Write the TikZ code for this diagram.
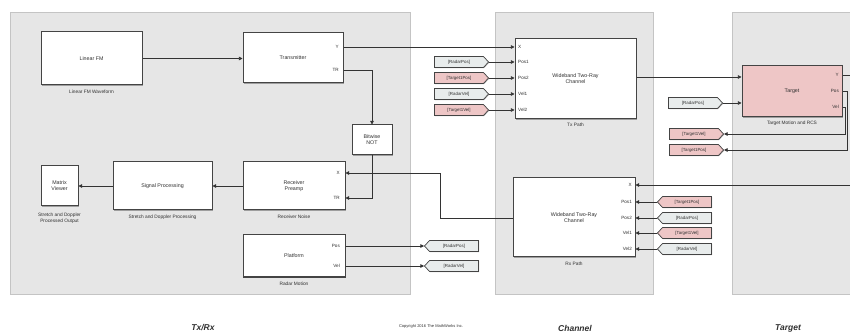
\documentclass[tikz,border=0pt]{standalone}
\usepackage{fontspec}
\setmainfont{Liberation Sans}
\usetikzlibrary{arrows.meta,shapes.symbols,shadows}
\definecolor{panelfill}{HTML}{E6E6E6}
\definecolor{paneledge}{HTML}{C4C4C4}
\definecolor{linec}{HTML}{333333}
\definecolor{blkedge}{HTML}{444444}
\definecolor{pinkfill}{HTML}{EEC6C6}
\definecolor{greyfill}{HTML}{E8ECEC}
\definecolor{txtc}{HTML}{303030}
\begin{document}
\begin{tikzpicture}[x=1pt,y=-1pt,
  panel/.style={fill=panelfill,draw=paneledge,line width=0.6pt,
    drop shadow={shadow xshift=0.8pt,shadow yshift=-1pt,fill=black!35,opacity=0.7}},
  blk/.style={draw=blkedge,fill=white,line width=1pt,inner sep=0pt,align=center,
    font=\fontsize{5.3}{6.2}\selectfont,text=txtc,
    drop shadow={shadow xshift=0.8pt,shadow yshift=-0.8pt,fill=black!45,opacity=0.8}},
  tagbase/.style={shape=signal,draw=blkedge,line width=0.7pt,inner sep=0.6pt,
    minimum height=11pt,minimum width=54pt,signal pointer angle=95,
    font=\fontsize{4.4}{5}\selectfont,text=txtc,
    drop shadow={shadow xshift=0.6pt,shadow yshift=-0.6pt,fill=black!40,opacity=0.8}},
  tagpink/.style={tagbase,fill=pinkfill},
  taggrey/.style={tagbase,fill=greyfill},
  toleft/.style={signal to=west},
  toright/.style={signal to=east},
  sublabel/.style={font=\fontsize{4.8}{5.6}\selectfont,text=txtc,align=center,inner sep=0pt},
  portl/.style={font=\fontsize{4.6}{5}\selectfont,text=txtc,inner sep=0pt},
  wire/.style={draw=linec,line width=0.7pt,-{Triangle[length=3.6pt,width=3.6pt]}},
  title/.style={font=\bfseries\itshape\fontsize{8.5}{10}\selectfont,text=txtc}
]
\useasboundingbox (0,0) rectangle (850,336);
% panels
\path[panel] (10,12) rectangle (410,294);
\path[panel] (495,12) rectangle (653,294);
\path[panel] (732,12) rectangle (858,294);

% Tx/Rx blocks
\node[blk,minimum width=101pt,minimum height=53pt] (lfm) at (91.5,58.5) {Linear FM};
\node[sublabel] (lfml) at (91.5,91.5) {Linear FM Waveform};
\node[blk,minimum width=100pt,minimum height=50pt] (tx) at (293,58) {Transmitter};
\node[blk,minimum width=40pt,minimum height=30pt] (bnot) at (372,140) {Bitwise\\NOT};
\node[blk,minimum width=102pt,minimum height=48pt] (rxp) at (294,186) {Receiver\\Preamp};
\node[sublabel] (rxpl) at (294,217) {Receiver Noise};
\node[blk,minimum width=99pt,minimum height=48pt] (sp) at (162.5,186) {Signal Processing};
\node[sublabel] (spl) at (162.5,217) {Stretch and Doppler Processing};
\node[blk,minimum width=37pt,minimum height=40pt] (mv) at (59.5,186) {Matrix\\Viewer};
\node[sublabel] (mvl) at (59.5,218) {Stretch and Doppler\\Processed Output};
\node[blk,minimum width=102pt,minimum height=42pt] (plat) at (294,256) {Platform};
\node[sublabel] (platl) at (294,284) {Radar Motion};

% Tx/Rx ports
\node[portl,anchor=east] (pY) at (339,47) {Y};
\node[portl,anchor=east] (pTR) at (339,70) {TR};
\node[portl,anchor=east] (pX2) at (340,173) {X};
\node[portl,anchor=east] (pTR2) at (340,198) {TR};
\node[portl,anchor=east] (pPos) at (340,246) {Pos};
\node[portl,anchor=east] (pVel) at (340,266) {Vel};

% Goto tags (Tx/Rx)
\node[taggrey,toleft] (gRP) at (454,246) {[RadarPos]};
\node[taggrey,toleft] (gRV) at (454,266) {[RadarVel]};

% Channel blocks
\node[blk,minimum width=121pt,minimum height=80pt] (txpath) at (575.5,79) {Wideband Two-Ray\\Channel};
\node[sublabel] (txpl) at (575.5,125) {Tx Path};
\node[blk,minimum width=122pt,minimum height=79pt] (rxpath) at (574,217.5) {Wideband Two-Ray\\Channel};
\node[sublabel] (rxpl) at (574,264) {Rx Path};

\foreach \n/\t/\y in {a/X/47,b/Pos1/62,c/Pos2/78,d/Vel1/94,e/Vel2/110}
  \node[portl,anchor=west] (tp\n) at (518,\y) {\t};
\foreach \n/\t/\y in {a/X/185,b/Pos1/202,c/Pos2/218,d/Vel1/233,e/Vel2/249}
  \node[portl,anchor=east] (rp\n) at (632,\y) {\t};

% From tags left of Tx Path
\node[taggrey,toright] (f1) at (459,62) {[RadarPos]};
\node[tagpink,toright] (f2) at (459,78) {[Target1Pos]};
\node[taggrey,toright] (f3) at (459,94) {[RadarVel]};
\node[tagpink,toright] (f4) at (459,110) {[Target1Vel]};

% From tags right of Rx Path
\node[tagpink,toleft] (r1) at (687,202) {[Target1Pos]};
\node[taggrey,toleft] (r2) at (687,218) {[RadarPos]};
\node[tagpink,toleft] (r3) at (687,233) {[Target1Vel]};
\node[taggrey,toleft] (r4) at (687,249) {[RadarVel]};

% Target
\node[blk,fill=pinkfill,minimum width=100pt,minimum height=51pt] (tgt) at (792,91.5) {Target};
\node[sublabel] (tgtl) at (792,123) {Target Motion and RCS};
\node[portl,anchor=east] (tY) at (839,75) {Y};
\node[portl,anchor=east] (tPos) at (839,91) {Pos};
\node[portl,anchor=east] (tVel) at (839,107) {Vel};
\node[taggrey,toright] (fRP) at (693,103) {[RadarPos]};
\node[tagpink,toright] (gTV) at (694,134) {[Target1Vel]};
\node[tagpink,toright] (gTP) at (694,150) {[Target1Pos]};

% titles
\node[title] (t1) at (203,328) {Tx/Rx};
\node[font=\fontsize{4}{5}\selectfont,text=txtc] (copy) at (431,326) {Copyright 2016 The MathWorks Inc.};
\node[title] (t2) at (575,328) {Channel};
\node[title] (t3) at (788,328) {Target};

% connectors
\draw[wire] (lfm.east) -- (tx.west |- lfm.east);
\draw[wire] (tx.east |- pY) -- (txpath.west |- pY);
\draw[wire] (tx.east |- pTR) -| (bnot.north);
\draw[wire] (bnot.south) |- (rxp.east |- pTR2);
\draw[wire] (rxpath.west |- rpc) -- (440,218) |- (rxp.east |- pX2);
\draw[wire] (rxp.west) -- (sp.east);
\draw[wire] (sp.west) -- (mv.east);
\draw[wire] (plat.east |- pPos) -- (gRP.west);
\draw[wire] (plat.east |- pVel) -- (gRV.west);
\draw[wire] (f1.east) -- (txpath.west |- f1.east);
\draw[wire] (f2.east) -- (txpath.west |- f2.east);
\draw[wire] (f3.east) -- (txpath.west |- f3.east);
\draw[wire] (f4.east) -- (txpath.west |- f4.east);
\draw[wire] (txpath.east |- 0,77) -- (tgt.west |- 0,77);
\draw[wire] (fRP.east) -- (tgt.west |- fRP.east);
\draw[wire] (tgt.east |- tVel) -- (845,107) |- (gTV.east);
\draw[wire] (tgt.east |- tPos) -- (847.5,91) |- (gTP.east);
\draw[wire] (tgt.east |- tY) -- (850,75) |- (rxpath.east |- rpa);
\draw[wire] (r1.west) -- (rxpath.east |- r1.west);
\draw[wire] (r2.west) -- (rxpath.east |- r2.west);
\draw[wire] (r3.west) -- (rxpath.east |- r3.west);
\draw[wire] (r4.west) -- (rxpath.east |- r4.west);
\end{tikzpicture}
\end{document}
